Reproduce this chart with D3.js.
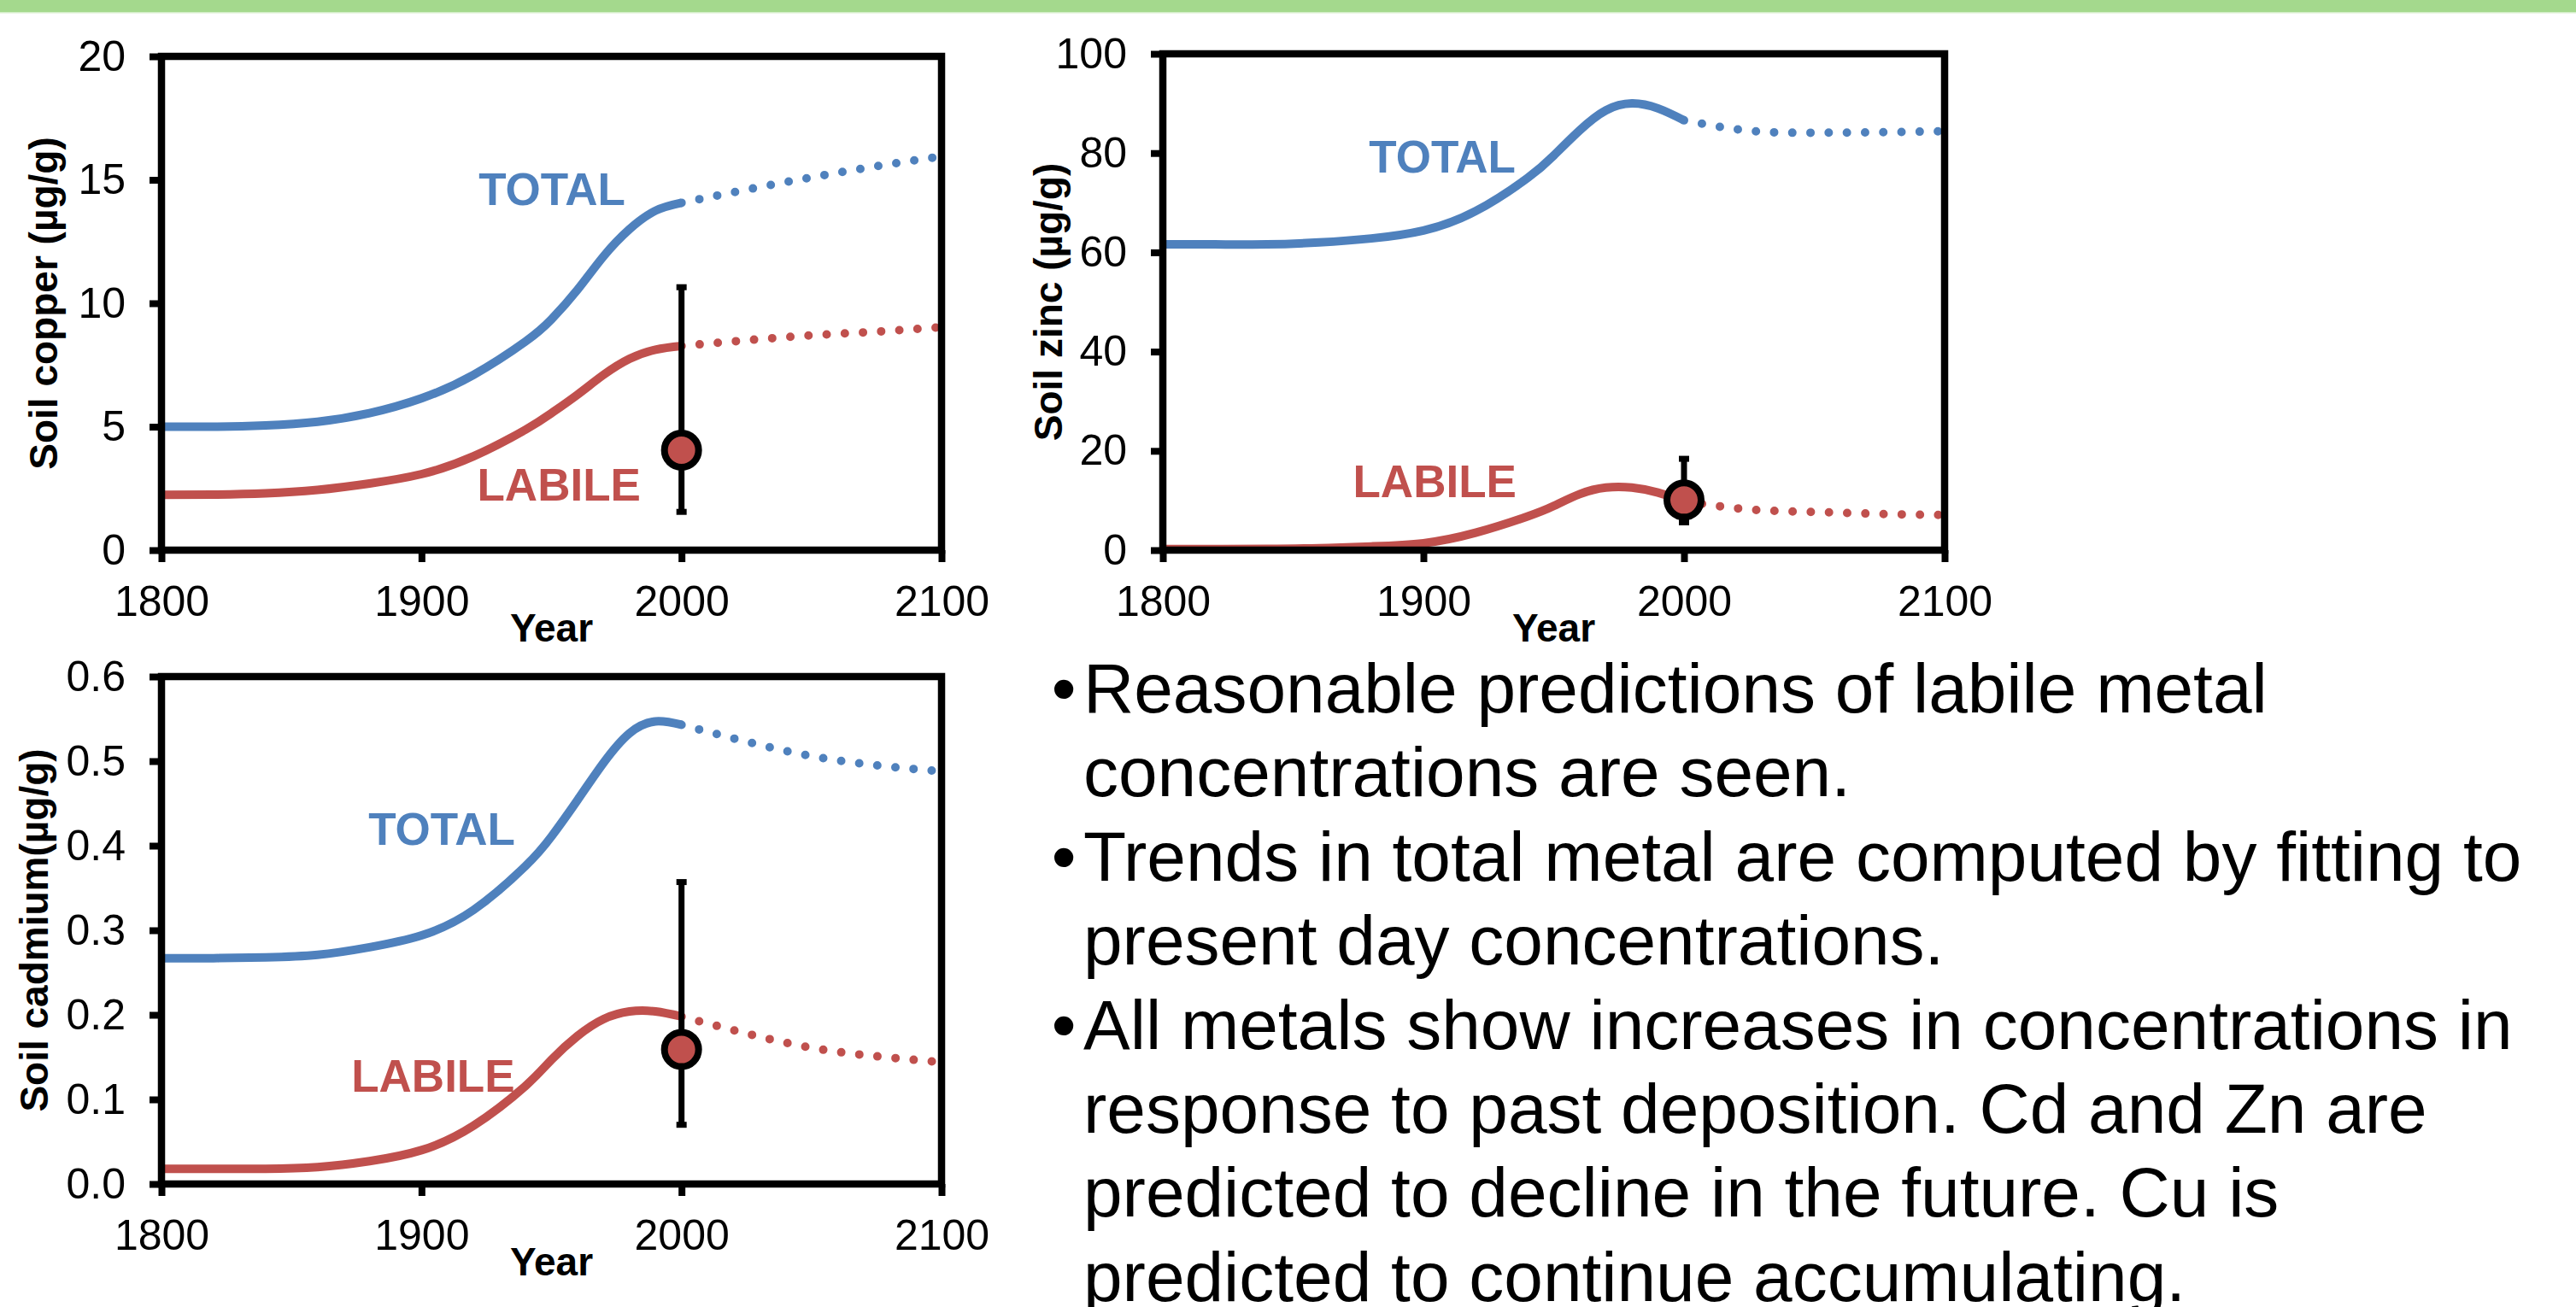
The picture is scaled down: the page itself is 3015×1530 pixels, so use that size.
<!DOCTYPE html>
<html>
<head>
<meta charset="utf-8">
<script src="https://cdn.jsdelivr.net/npm/d3@7"></script>
<style>
  body { margin: 0; background: #fff; }
  svg { display: block; }
</style>
</head>
<body>
<div id="chart"></div>
<script>
// Years of the modelled history and of the projection
const years = [1800, 1820, 1840, 1860, 1880, 1900, 1920, 1940, 1950, 1960, 1970, 1980, 1990, 2000];
const futureYears = [2000, 2025, 2050, 2075, 2100];
const yearTicks = [1800, 1900, 2000, 2100];

// Copper (µg/g)
const copperTotal = [5.0, 5.0, 5.05, 5.2, 5.55, 6.15, 7.1, 8.45, 9.35, 10.55, 11.9, 13.0, 13.75, 14.07];
const copperTotalFuture = [14.07, 14.6, 15.1, 15.55, 15.95];
const copperLabile = [2.24, 2.25, 2.3, 2.44, 2.7, 3.08, 3.8, 4.88, 5.55, 6.3, 7.1, 7.75, 8.12, 8.27];
const copperLabileFuture = [8.27, 8.5, 8.7, 8.85, 9.03];
const copperObserved = [4.05, 1.55, 10.65]; // mean, low, high
const copperTicks = [0, 5, 10, 15, 20];

// Zinc (µg/g)
const zincTotal = [61.6, 61.6, 61.6, 62.0, 62.8, 64.4, 68.3, 75.0, 79.5, 84.6, 88.6, 90.0, 89.0, 86.6];
const zincTotalFuture = [86.6, 84.5, 84.1, 84.2, 84.4];
const zincLabile = [0.2, 0.2, 0.25, 0.4, 0.75, 1.4, 3.5, 6.8, 8.9, 11.3, 12.6, 12.6, 11.6, 9.9];
const zincLabileFuture = [9.9, 8.2, 7.7, 7.3, 7.1];
const zincObserved = [10.1, 5.6, 18.4];
const zincTicks = [0, 20, 40, 60, 80, 100];

// Cadmium (µg/g)
const cadmiumTotal = [0.267, 0.267, 0.268, 0.271, 0.280, 0.294, 0.324, 0.376, 0.411, 0.454, 0.498, 0.533, 0.547, 0.543];
const cadmiumTotalFuture = [0.543, 0.523, 0.506, 0.495, 0.488];
const cadmiumLabile = [0.018, 0.018, 0.018, 0.020, 0.027, 0.040, 0.069, 0.116, 0.147, 0.175, 0.195, 0.204, 0.204, 0.198];
const cadmiumLabileFuture = [0.198, 0.178, 0.161, 0.151, 0.144];
const cadmiumObserved = [0.159, 0.070, 0.357];
const cadmiumTicks = [0, 0.1, 0.2, 0.3, 0.4, 0.5, 0.6];

const bullets = [
	['Reasonable predictions of labile metal', 'concentrations are seen.'],
	['Trends in total metal are computed by fitting to', 'present day concentrations.'],
	['All metals show increases in concentrations in', 'response to past deposition. Cd and Zn are',
		'predicted to decline in the future. Cu is', 'predicted to continue accumulating.'],
];

// Styles
const width = 3015;
const height = 1530;
const blue = '#4F81BD';
const red = '#C0504D';
const font = '"Liberation Sans", Arial, sans-serif';

const svg = d3.select('#chart').append('svg')
	.attr('width', width).attr('height', height)
	.attr('viewBox', [0, 0, width, height]);

// green band along the top
svg.append('rect').attr('x', 0).attr('y', 0).attr('width', width).attr('height', 14).attr('fill', '#A4D98D');
svg.append('rect').attr('x', 0).attr('y', 14).attr('width', width).attr('height', 1.5).attr('fill', '#D4EEC8');

const panels = [
	{
		left: 189, right: 1102, top: 66, bottom: 644, yMax: 20, ticks: copperTicks, fmt: d3.format('d'),
		title: 'Soil copper (µg/g)', titleX: 67,
		total: copperTotal, totalFuture: copperTotalFuture, labile: copperLabile, labileFuture: copperLabileFuture,
		observed: copperObserved,
		totalLabel: [1978.4, 13.98], labileLabel: [1984.3, 1.99],
	},
	{
		left: 1361, right: 2276, top: 63, bottom: 644, yMax: 100, ticks: zincTicks, fmt: d3.format('d'),
		title: 'Soil zinc (µg/g)', titleX: 1243,
		total: zincTotal, totalFuture: zincTotalFuture, labile: zincLabile, labileFuture: zincLabileFuture,
		observed: zincObserved,
		totalLabel: [1935.4, 76.0], labileLabel: [1935.7, 10.7],
	},
	{
		left: 189, right: 1102, top: 792, bottom: 1386, yMax: 0.6, ticks: cadmiumTicks, fmt: d3.format('.1f'),
		title: 'Soil cadmium(µg/g)', titleX: 56,
		total: cadmiumTotal, totalFuture: cadmiumTotalFuture, labile: cadmiumLabile, labileFuture: cadmiumLabileFuture,
		observed: cadmiumObserved,
		totalLabel: [1936, 0.401], labileLabel: [1935.9, 0.109],
	},
];

function drawPanel(p) {
	const g = svg.append('g');
	const x = d3.scaleLinear().domain([1800, 2100]).range([p.left, p.right]);
	const y = d3.scaleLinear().domain([0, p.yMax]).range([p.bottom, p.top]);
	const line = d3.line().x((d) => x(d[0])).y((d) => y(d[1])).curve(d3.curveNatural);

	// curves: solid history, dotted projection
	[[p.total, p.totalFuture, blue], [p.labile, p.labileFuture, red]].forEach(([past, future, color]) => {
		g.append('path')
			.datum(d3.zip(years, past))
			.attr('d', line)
			.attr('fill', 'none')
			.attr('stroke', color)
			.attr('stroke-width', 10);
		g.append('path')
			.datum(d3.zip(futureYears, future))
			.attr('d', line)
			.attr('fill', 'none')
			.attr('stroke', color)
			.attr('stroke-width', 10)
			.attr('stroke-linecap', 'round')
			.attr('stroke-dasharray', '0 21.3');
	});

	// axes
	const xAxis = g.append('g')
		.attr('transform', `translate(0,${p.bottom})`)
		.call(d3.axisBottom(x).tickValues(yearTicks).tickFormat(d3.format('d')).tickSize(14).tickPadding(27));
	const yAxis = g.append('g')
		.attr('transform', `translate(${p.left},0)`)
		.call(d3.axisLeft(y).tickValues(p.ticks).tickFormat(p.fmt).tickSize(14).tickPadding(28));
	[xAxis, yAxis].forEach((a) => {
		a.select('.domain').remove();
		a.attr('font-size', 50).attr('font-family', font);
		a.selectAll('line').attr('stroke', '#000').attr('stroke-width', 8);
		a.selectAll('text').attr('fill', '#000');
	});

	// frame
	g.append('rect')
		.attr('x', p.left).attr('y', p.top)
		.attr('width', p.right - p.left).attr('height', p.bottom - p.top)
		.attr('fill', 'none').attr('stroke', '#000').attr('stroke-width', 8.5);

	// axis titles
	g.append('text')
		.attr('x', (p.left + p.right) / 2).attr('y', p.bottom + 107)
		.attr('text-anchor', 'middle')
		.attr('font-family', font).attr('font-weight', 'bold').attr('font-size', 46)
		.text('Year');
	g.append('text')
		.attr('transform', `translate(${p.titleX},${(p.top + p.bottom) / 2}) rotate(-90)`)
		.attr('text-anchor', 'middle')
		.attr('font-family', font).attr('font-weight', 'bold').attr('font-size', 46)
		.text(p.title);

	// series labels
	g.append('text')
		.attr('x', x(p.totalLabel[0])).attr('y', y(p.totalLabel[1]))
		.attr('text-anchor', 'end').attr('fill', blue)
		.attr('font-family', font).attr('font-weight', 'bold').attr('font-size', 53)
		.text('TOTAL');
	g.append('text')
		.attr('x', x(p.labileLabel[0])).attr('y', y(p.labileLabel[1]))
		.attr('text-anchor', 'end').attr('fill', red)
		.attr('font-family', font).attr('font-weight', 'bold').attr('font-size', 53)
		.text('LABILE');

	// measured labile value with error bar
	const [mean, low, high] = p.observed;
	const cx = x(2000);
	g.append('line')
		.attr('x1', cx).attr('x2', cx).attr('y1', y(low)).attr('y2', y(high))
		.attr('stroke', '#000').attr('stroke-width', 7);
	[low, high].forEach((v) => {
		g.append('line')
			.attr('x1', cx - 6).attr('x2', cx + 6).attr('y1', y(v)).attr('y2', y(v))
			.attr('stroke', '#000').attr('stroke-width', 7);
	});
	g.append('circle')
		.attr('cx', cx).attr('cy', y(mean)).attr('r', 20)
		.attr('fill', red).attr('stroke', '#000').attr('stroke-width', 8);
}

panels.forEach(drawPanel);

// bullet text
const text = svg.append('g')
	.attr('font-family', font).attr('font-size', 82).attr('fill', '#000');
let row = 0;
bullets.forEach((lines) => {
	lines.forEach((t, i) => {
		const yPos = 834 + row * 98.4;
		if (i === 0) {
			text.append('text').attr('x', 1245).attr('y', yPos).attr('text-anchor', 'middle').text('•');
		}
		text.append('text').attr('x', 1268).attr('y', yPos).text(t);
		row += 1;
	});
});
</script>
</body>
</html>
